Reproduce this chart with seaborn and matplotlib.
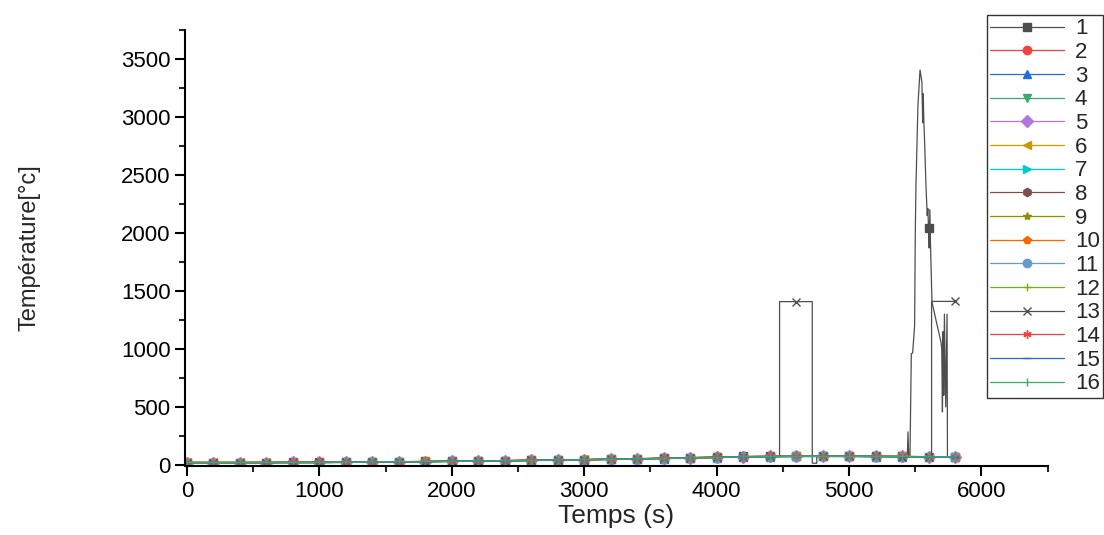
import pandas as pd
import matplotlib
matplotlib.use("Agg")
import matplotlib.pyplot as plt
from matplotlib.ticker import MultipleLocator
import seaborn as sns

# time grid used by the 16 thermocouples (s)
grid = [0, 200, 400, 600, 800, 1000, 1200, 1400, 1600, 1800, 2000, 2200, 2400, 2600, 2800,
        3000, 3200, 3400, 3600, 3800, 4000, 4200, 4400, 4600, 4800, 5000, 5200, 5400, 5600, 5800]

# temperatures (°C)
t1 = grid[:28] + [5440, 5445, 5450, 5460, 5470, 5480, 5495, 5500, 5505, 5520, 5536, 5550, 5556,
                  5560, 5565, 5570, 5581, 5590, 5595, 5600, 5605, 5610, 5615, 5626, 5660, 5694,
                  5700, 5705, 5710, 5715, 5720, 5730, 5740, 5743, 5800]
s1 = [21, 21, 21, 21, 22, 22, 24, 26, 28, 30, 32, 34, 37, 40, 43, 46, 50, 54, 58, 64, 68, 73, 76, 77,
      77, 76, 75, 74] + [76, 285, 76, 80, 960, 965, 1200, 2000, 2400, 3100, 3405, 3300, 2950,
                         3200, 2950, 2800, 2400, 2150, 2210, 2040, 1870, 2200, 1900, 1405, 1230, 1060,
                         1000, 457, 1150, 600, 1300, 500, 1300, 70, 68]
s2 = [20, 20, 20, 21, 21, 21, 23, 25, 27, 29, 31, 33, 36, 39, 42, 45, 48, 52, 56, 61, 65, 70, 72, 74, 74, 74, 73, 72, 70, 68]
s3 = [19, 19, 20, 20, 21, 21, 22, 24, 26, 28, 30, 32, 35, 38, 41, 44, 47, 51, 55, 60, 64, 69, 71, 73, 73, 73, 72, 71, 69, 67]
s4 = [20, 20, 20, 20, 21, 21, 22, 24, 27, 29, 31, 33, 36, 39, 42, 45, 49, 53, 57, 61, 66, 70, 72, 74, 75, 74, 73, 72, 70, 68]
s5 = [21, 21, 21, 21, 22, 22, 23, 25, 27, 29, 32, 34, 37, 40, 43, 46, 49, 53, 57, 62, 66, 71, 73, 75, 75, 75, 74, 73, 71, 69]
s6 = [22, 22, 22, 22, 22, 23, 24, 26, 28, 30, 32, 35, 38, 41, 44, 47, 50, 54, 58, 63, 67, 72, 74, 76, 76, 76, 75, 74, 72, 70]
s7 = [20, 20, 20, 20, 21, 21, 22, 24, 26, 28, 30, 33, 35, 38, 41, 44, 48, 52, 56, 60, 64, 69, 71, 73, 73, 73, 72, 71, 70, 68]
s8 = [21, 21, 21, 21, 21, 22, 23, 25, 27, 29, 31, 34, 36, 39, 42, 45, 49, 53, 57, 62, 65, 70, 73, 74, 74, 74, 73, 72, 71, 69]
s9 = [20, 20, 20, 21, 21, 21, 23, 25, 27, 29, 31, 33, 36, 39, 42, 45, 48, 52, 56, 61, 65, 70, 72, 74, 74, 74, 73, 72, 70, 68]
s10 = [22, 22, 22, 22, 23, 23, 24, 26, 28, 30, 33, 35, 38, 41, 44, 47, 50, 54, 58, 63, 67, 72, 74, 76, 76, 75, 74, 73, 71, 69]
s11 = [19, 19, 19, 20, 20, 20, 22, 24, 26, 28, 30, 32, 35, 38, 41, 44, 47, 51, 55, 60, 64, 69, 71, 72, 73, 73, 72, 71, 69, 67]
s12 = [20, 20, 20, 20, 21, 21, 23, 25, 27, 29, 31, 33, 36, 39, 42, 45, 48, 52, 56, 61, 65, 70, 72, 74, 74, 74, 73, 72, 70, 68]
t13 = grid[:23] + [4475, 4475, 4600, 4722, 4722, 4756, 4756, 4800, 5000, 5200, 5400, 5600, 5623, 5623, 5800]
s13 = [21, 21, 21, 21, 22, 22, 23, 25, 27, 29, 32, 34, 37, 40, 43, 46, 49, 53, 57, 62, 66, 71, 73] + \
      [73, 1408, 1408, 1408, 15, 15, 74, 74, 74, 73, 72, 70, 70, 1410, 1410]
s14 = [21, 21, 21, 21, 22, 22, 23, 25, 27, 30, 32, 34, 37, 40, 43, 46, 49, 53, 57, 62, 66, 71, 73, 75, 75, 75, 74, 73, 71, 69]
s15 = [20, 20, 20, 20, 21, 21, 22, 24, 26, 28, 31, 33, 36, 39, 42, 45, 48, 52, 56, 61, 65, 70, 72, 74, 74, 74, 73, 72, 70, 68]
s16 = [20, 20, 20, 21, 21, 21, 23, 25, 27, 29, 31, 33, 36, 39, 42, 45, 48, 52, 56, 61, 65, 70, 72, 74, 74, 74, 73, 72, 70, 69]

series = [(t1, s1), (grid, s2), (grid, s3), (grid, s4), (grid, s5), (grid, s6), (grid, s7), (grid, s8),
          (grid, s9), (grid, s10), (grid, s11), (grid, s12), (t13, s13), (grid, s14), (grid, s15), (grid, s16)]
labels = [str(i) for i in range(1, 17)]

colors = ["#4d4d4d", "#f14040", "#1a6fdf", "#37ad6b", "#b177de", "#cc9900", "#00cbcc", "#7d4e4e",
          "#8e8e00", "#fb6501", "#6699cc", "#6fb802", "#4d4d4d", "#f14040", "#1a6fdf", "#37ad6b"]
markers = ["s", "o", "^", "v", "D", "<", ">", "h", "*", "p", "o", "+", "x", (6, 2, 0), "_", "|"]

sns.set_style("ticks")
plt.rcParams["font.family"] = ["Liberation Sans", "DejaVu Sans"]

fig = plt.figure(figsize=(11.04, 5.35), dpi=100)
ax = fig.add_axes([0.1676, 0.129, 0.7814, 0.815])

for (t, v), lab, c, m in zip(series, labels, colors, markers):
    df = pd.DataFrame({"t": t, "T": v})
    marks = [i for i, x in enumerate(t) if x % 200 == 0 and (i == 0 or t[i - 1] != x)]
    sns.lineplot(data=df, x="t", y="T", ax=ax, estimator=None, sort=False, color=c,
                 marker=m, markevery=marks, markersize=6, markeredgewidth=1,
                 markeredgecolor=c, linewidth=0.9, label=lab, legend=False)

ax.set_xlim(-15, 6500)
ax.set_ylim(-9, 3750)
ax.xaxis.set_major_locator(MultipleLocator(1000))
ax.xaxis.set_minor_locator(MultipleLocator(500))
ax.yaxis.set_major_locator(MultipleLocator(500))
ax.yaxis.set_minor_locator(MultipleLocator(250))
ax.tick_params(which="major", direction="out", length=7, width=1.5, labelsize=16, colors="black")
ax.tick_params(which="minor", direction="out", length=4, width=1.5)
sns.despine(ax=ax)
for sp in ["left", "bottom"]:
    ax.spines[sp].set_linewidth(1.5)
    ax.spines[sp].set_color("black")

ax.set_xlabel("Temps (s)", fontsize=19, labelpad=2)
ax.set_ylabel("Température[°c]", fontsize=17, labelpad=58)

handles, labs = ax.get_legend_handles_labels()
leg = fig.legend(handles, labs, loc="upper left", bbox_to_anchor=(987 / 1104, 1 - 15 / 535),
                 fontsize=16, labelspacing=0.12, handlelength=3.3, handletextpad=0.5,
                 borderpad=0.15, borderaxespad=0, frameon=True, fancybox=False)
leg.get_frame().set_edgecolor("black")
leg.get_frame().set_linewidth(1)

fig.savefig("out.png", dpi=100)
